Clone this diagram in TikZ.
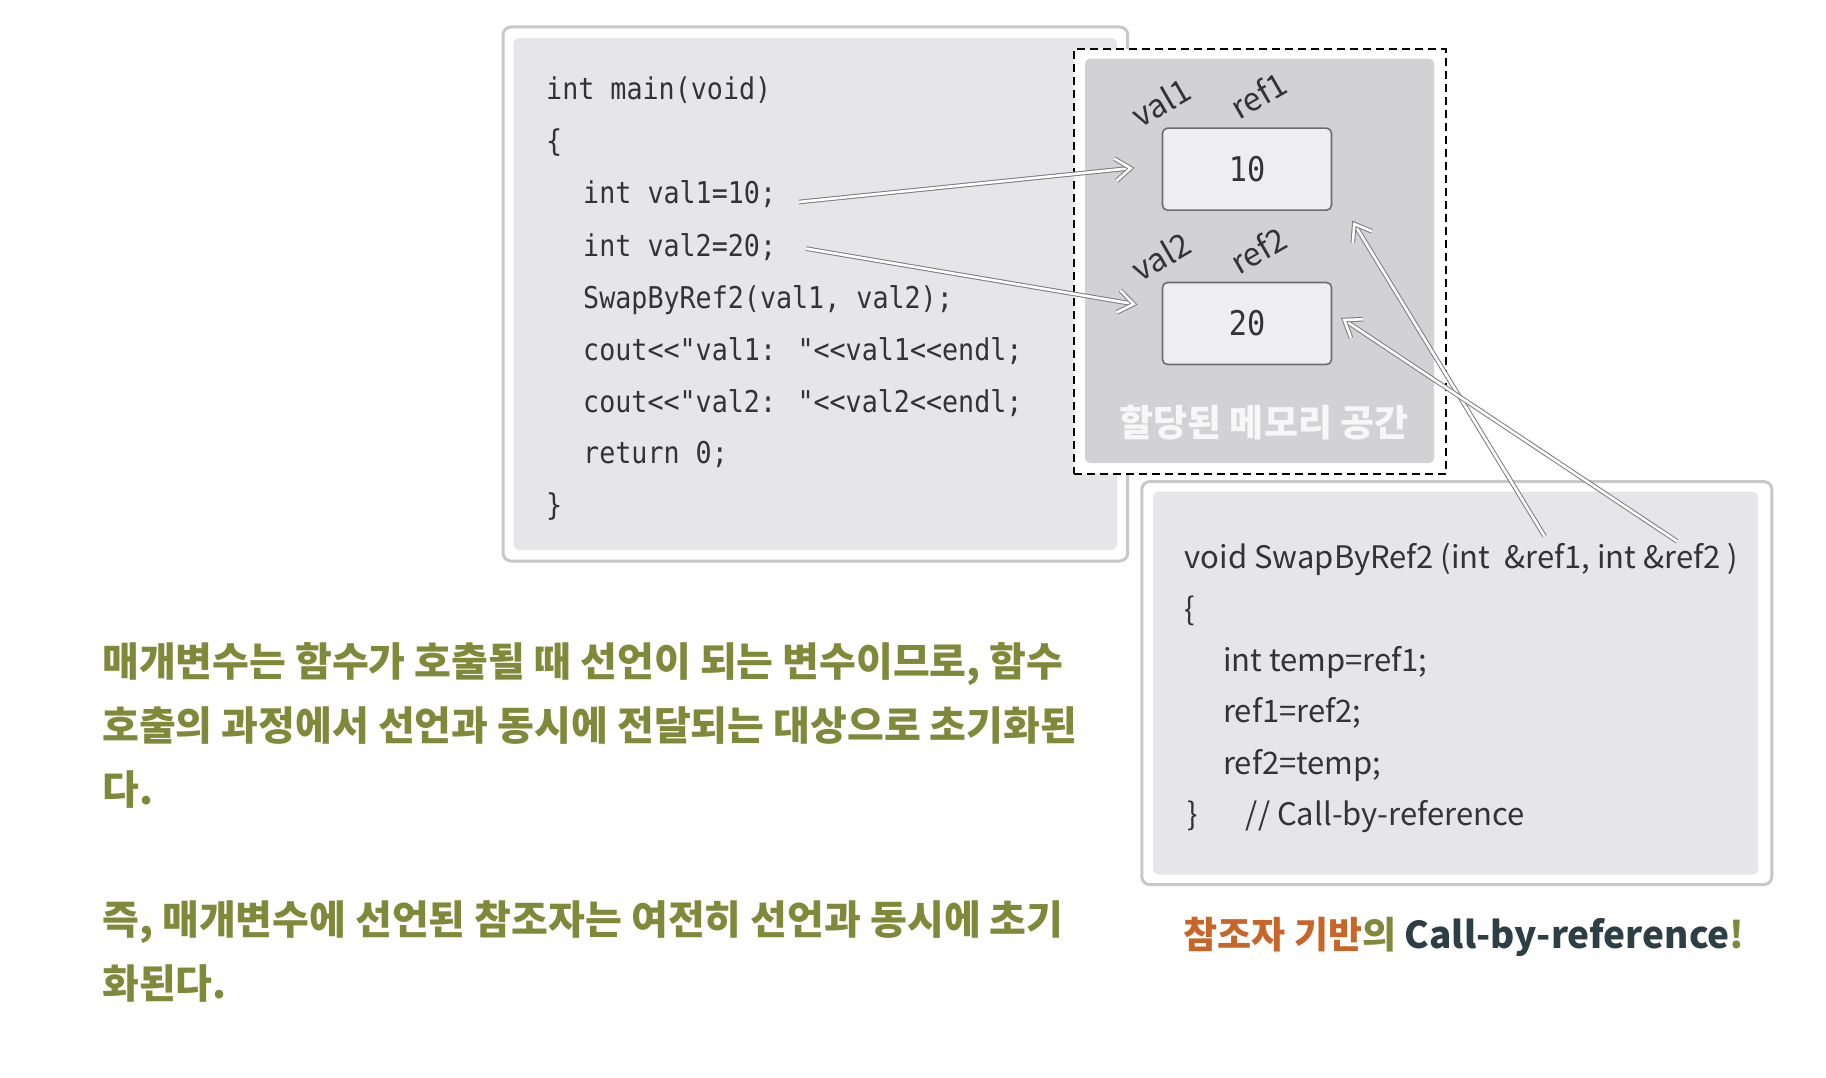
\documentclass[tikz,border=0pt]{standalone}
\usepackage{fontspec}
\usetikzlibrary{calc}
\newfontfamily\codefont[FakeStretch=0.89]{DejaVu Sans Mono}
\newfontfamily\krfont{Noto Sans CJK KR}
\definecolor{frame}{HTML}{C8C8C8}
\definecolor{panel}{HTML}{E6E6E8}
\definecolor{mempanel}{HTML}{D2D2D4}
\definecolor{cell}{HTML}{EEEEF0}
\definecolor{cellborder}{HTML}{6E6E6E}
\definecolor{codecol}{HTML}{333333}
\definecolor{olive}{HTML}{7F893A}
\definecolor{rust}{HTML}{C8662A}
\definecolor{slate}{HTML}{2D3E44}
\definecolor{arrowgray}{HTML}{7C7C7C}
\tikzset{
  outerframe/.style={draw=frame, line width=3pt, rounded corners=8pt, inner sep=0pt, fill=white},
  innerpanel/.style={fill=panel, rounded corners=6pt, inner sep=0pt},
  memframe/.style={draw=black, line width=1.8pt, dash pattern=on 8pt off 5pt, fill=white, inner sep=0pt},
  mempanelbox/.style={fill=mempanel, rounded corners=5pt, inner sep=0pt},
  cellbox/.style={draw=cellborder, line width=1.6pt, fill=cell, rounded corners=5pt, inner sep=0pt,
     minimum width=169pt, minimum height=82pt, text=codecol, font=\codefont\fontsize{34}{38}\selectfont},
  codeline/.style={anchor=base west, inner sep=0pt, text=codecol, font=\codefont\fontsize{30}{36}\selectfont},
  subline/.style={anchor=base west, inner sep=0pt, text=codecol, font=\krfont\fontsize{31}{36}\selectfont},
  varlabel/.style={inner sep=0pt, rotate=30, text=codecol, font=\krfont\fontsize{32}{36}\selectfont},
  krline/.style={anchor=base west, inner sep=0pt, text=olive, font=\krfont\bfseries\fontsize{40}{46}\selectfont},
  arrowline/.style={draw=arrowgray, line width=1pt, double=white, double distance=2.6pt, line join=miter},
}
\newcommand\refarrow[2]{%
  \draw[arrowline] (#1) -- ($(#2)!2pt!(#1)$);
  \draw[arrowline] ($(#2)!19pt!36:(#1)$) -- (#2) -- ($(#2)!19pt!-36:(#1)$);
}
\begin{document}
\begin{tikzpicture}[x=1pt,y=-1pt]
\fill[white] (0,0) rectangle (1826,1078);
\useasboundingbox (0,0) rectangle (1826,1078);

% main function panel
\node[outerframe, minimum width=624.7pt, minimum height=534pt] (mainouter) at (815.35,294) {};
\node[innerpanel, minimum width=603.5pt, minimum height=512pt] (maininner) at (815.25,294) {};

\node[codeline] (m1) at (546,100) {int main(void)};
\node[codeline] (m2) at (546,152) {\{};
\node[codeline] (m3) at (583,204) {int val1=10;};
\node[codeline] (m4) at (583,256) {int val2=20;};
\node[codeline] (m5) at (583,308) {SwapByRef2(val1, val2);};
\node[codeline] (m6) at (583,360) {cout<<"val1: "<<val1<<endl;};
\node[codeline] (m7) at (583,412) {cout<<"val2: "<<val2<<endl;};
\node[codeline] (m8) at (583,463) {return 0;};
\node[codeline] (m9) at (546,515) {\}};

% memory panel
\node[memframe, minimum width=372pt, minimum height=424.3pt] (memouter) at (1260,261.45) {};
\node[mempanelbox, minimum width=349pt, minimum height=404.4pt] (meminner) at (1259.5,260.8) {};
\node[cellbox] (box10) at (1247,169.2) {10};
\node[cellbox] (box20) at (1247,323.5) {20};
\node[varlabel] (lv1) at (1161,102) {val1};
\node[varlabel] (lr1) at (1258,95) {ref1};
\node[varlabel] (lv2) at (1161,256) {val2};
\node[varlabel] (lr2) at (1258,250) {ref2};
\node[anchor=base, inner sep=0pt, text=white!97!black, font=\krfont\bfseries\fontsize{37}{40}\selectfont] (memtxt) at (1264,436) {할당된 메모리 공간};

% SwapByRef2 panel
\node[outerframe, minimum width=630pt, minimum height=403pt] (subouter) at (1456.8,683.1) {};
\node[innerpanel, minimum width=605pt, minimum height=383pt] (subinner) at (1455.5,683.1) {};
\node[subline] (s1) at (1184.7,568.5) {void SwapByRef2 (int \ \&ref1, int \&ref2 )};
\node[subline] (s2) at (1184.7,620) {\{};
\node[subline] (s3) at (1223,671) {int temp=ref1;};
\node[subline] (s4) at (1223,722.5) {ref1=ref2;};
\node[subline] (s5) at (1223,774) {ref2=temp;};
\node[subline] (s6) at (1187,825) {\}};
\node[subline] (s6c) at (1245.7,825) {// Call-by-reference};

% arrows
\coordinate (a1s) at (799,202);
\coordinate (a2s) at (806,248.6);
\coordinate (a3s) at (1544.6,536.3);
\coordinate (a4s) at (1677,541.3);
\coordinate (a1t) at ($(box10.west)+(-31,-1)$);
\coordinate (a2t) at ($(box20.west)+(-28,-19.5)$);
\coordinate (a3t) at ($(box10.south east)+(22,13)$);
\coordinate (a4t) at ($(box20.east)+(12,-3.5)$);
\refarrow{a1s}{a1t}
\refarrow{a2s}{a2t}
\refarrow{a3s}{a3t}
\refarrow{a4s}{a4t}

% explanation text
\node[krline] (k1) at (102,676) {매개변수는 함수가 호출될 때 선언이 되는 변수이므로, 함수};
\node[krline] (k2) at (102,740) {호출의 과정에서 선언과 동시에 전달되는 대상으로 초기화된};
\node[krline] (k3) at (102,804) {다.};
\node[krline] (k4) at (102,934) {즉, 매개변수에 선언된 참조자는 여전히 선언과 동시에 초기};
\node[krline] (k5) at (102,998) {화된다.};

% caption
\node[anchor=base, inner sep=0pt, font=\krfont\bfseries\fontsize{37}{44}\selectfont] (cap) at (1464,948)
  {\textcolor{rust}{참조자 기반}\textcolor{olive}{의} \textcolor{slate}{Call-by-reference}\textcolor{olive}{!}};
\end{tikzpicture}
\end{document}
